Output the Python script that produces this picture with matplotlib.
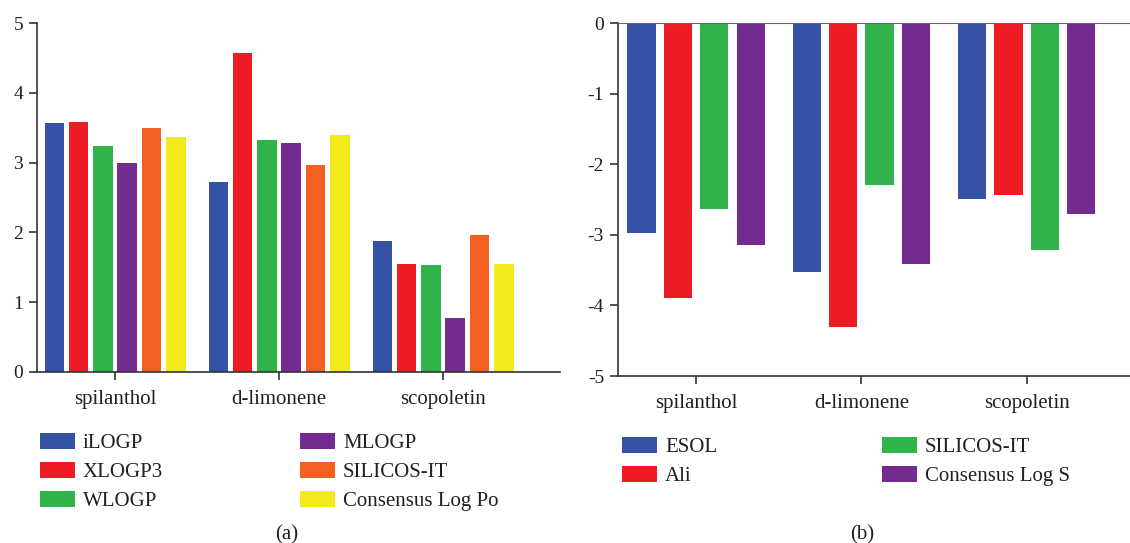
import matplotlib
matplotlib.use("Agg")
import matplotlib.pyplot as plt
import numpy as np

plt.rcParams['font.family'] = ['Liberation Serif', 'DejaVu Serif']

# compounds on the x axis
compounds = ['spilanthol', 'd-limonene', 'scopoletin']

# (a) lipophilicity values
logp_labels = ['iLOGP', 'XLOGP3', 'WLOGP', 'MLOGP', 'SILICOS-IT', 'Consensus Log Po']
ilogp = [3.57, 2.72, 1.88]
xlogp3 = [3.58, 4.57, 1.55]
wlogp = [3.24, 3.33, 1.53]
mlogp = [3.00, 3.28, 0.77]
silicos_p = [3.50, 2.97, 1.96]
consensus_p = [3.37, 3.40, 1.55]

# (b) water solubility values
logs_labels = ['ESOL', 'Ali', 'SILICOS-IT', 'Consensus Log S']
esol = [-2.97, -3.53, -2.49]
ali = [-3.89, -4.31, -2.43]
silicos_s = [-2.63, -2.30, -3.21]
consensus_s = [-3.15, -3.41, -2.71]

blue = '#3453a4'
red = '#ed1c24'
green = '#2fb34a'
purple = '#732b90'
orange = '#f26122'
yellow = '#f2ea1a'
txt = '#231f20'

fig = plt.figure(figsize=(11.3, 5.43), dpi=100)
ax1 = fig.add_axes([37/1130, 171/543, 523/1130, 349/543])
ax2 = fig.add_axes([618/1130, 167/543, 512/1130, 353/543])

x = np.arange(len(compounds))

# left panel
series_a = [ilogp, xlogp3, wlogp, mlogp, silicos_p, consensus_p]
colors_a = [blue, red, green, purple, orange, yellow]
for i, (vals, c, lab) in enumerate(zip(series_a, colors_a, logp_labels)):
    ax1.bar(x + (i - 2.5) * 0.148, vals, width=0.12, color=c, label=lab)
ax1.set_xlim(-0.476, 2.713)
ax1.set_ylim(0, 5)
ax1.set_yticks(range(0, 6))

# right panel
series_b = [esol, ali, silicos_s, consensus_s]
colors_b = [blue, red, green, purple]
for i, (vals, c, lab) in enumerate(zip(series_b, colors_b, logs_labels)):
    ax2.bar(x + (i - 1.5) * 0.22, vals, width=0.17, color=c, label=lab)
ax2.axhline(0, color='#666666', lw=1.5, zorder=3)
ax2.set_xlim(-0.472, 2.625)
ax2.set_ylim(-5, 0)
ax2.set_yticks(range(-5, 1))
ax2.set_yticklabels([str(v) for v in range(-5, 1)])

for ax in (ax1, ax2):
    ax.set_xticks(x)
    ax.set_xticklabels(compounds)
    for s in ('top', 'right'):
        ax.spines[s].set_visible(False)
    for s in ('left', 'bottom'):
        ax.spines[s].set_color('#333333')
        ax.spines[s].set_linewidth(1.2)
    ax.tick_params(axis='both', colors='#333333', labelcolor=txt,
                   width=1.2, length=6)
    ax.tick_params(axis='x', pad=7, labelsize=15)
    ax.tick_params(axis='y', pad=4, labelsize=14)

leg_kw = dict(frameon=False, fontsize=15, handlelength=1.68, handleheight=0.77,
              handletextpad=0.38, borderpad=0, borderaxespad=0, labelspacing=0.44,
              ncol=2, loc='upper left', bbox_transform=fig.transFigure, labelcolor=txt)
fig.legend(*ax1.get_legend_handles_labels(), bbox_to_anchor=(40/1130, 1 - 433/543),
           columnspacing=6.57, **leg_kw)
fig.legend(*ax2.get_legend_handles_labels(), bbox_to_anchor=(622/1130, 1 - 437/543),
           columnspacing=7.9, **leg_kw)

fig.text(287/1130, 8/543, '(a)', ha='center', va='center', fontsize=15, color=txt)
fig.text(862/1130, 8/543, '(b)', ha='center', va='center', fontsize=15, color=txt)

fig.savefig('out.png', dpi=100)
